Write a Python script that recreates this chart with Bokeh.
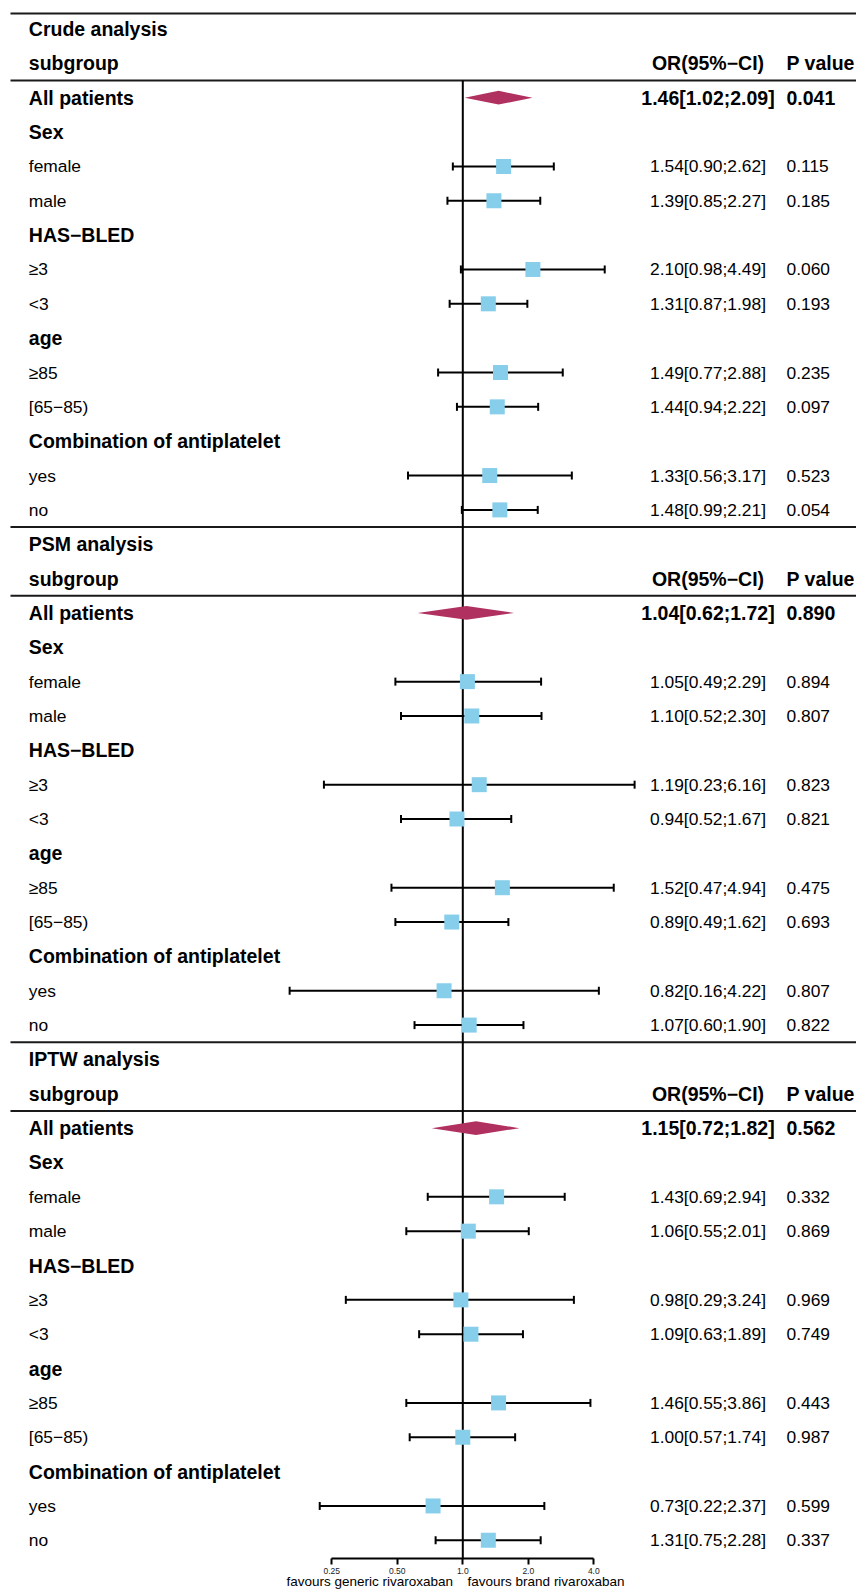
import math
from bokeh.plotting import figure
from bokeh.models import (Range1d, LogScale, LogAxis, FixedTicker,
                          CustomJSTickFormatter, ColumnDataSource)
from bokeh.core.properties import value
from bokeh.embed import file_html
from bokeh.resources import INLINE

# ---------------- data ----------------
analyses = ["Crude analysis", "PSM analysis", "IPTW analysis"]
row_labels = ["All patients", "Sex", "female", "male", "HAS−BLED", "≥3", "<3",
              "age", "≥85", "[65−85)", "Combination of antiplatelet", "yes", "no"]
heading_rows = ["Sex", "HAS−BLED", "age", "Combination of antiplatelet"]
data_rows = ["All patients", "female", "male", "≥3", "<3", "≥85", "[65−85)", "yes", "no"]
col_headers = ["subgroup", "OR(95%−CI)", "P value"]

crude_or = [1.46, 1.54, 1.39, 2.10, 1.31, 1.49, 1.44, 1.33, 1.48]
crude_lo = [1.02, 0.90, 0.85, 0.98, 0.87, 0.77, 0.94, 0.56, 0.99]
crude_hi = [2.09, 2.62, 2.27, 4.49, 1.98, 2.88, 2.22, 3.17, 2.21]
crude_p = ["0.041", "0.115", "0.185", "0.060", "0.193", "0.235", "0.097", "0.523", "0.054"]

psm_or = [1.04, 1.05, 1.10, 1.19, 0.94, 1.52, 0.89, 0.82, 1.07]
psm_lo = [0.62, 0.49, 0.52, 0.23, 0.52, 0.47, 0.49, 0.16, 0.60]
psm_hi = [1.72, 2.29, 2.30, 6.16, 1.67, 4.94, 1.62, 4.22, 1.90]
psm_p = ["0.890", "0.894", "0.807", "0.823", "0.821", "0.475", "0.693", "0.807", "0.822"]

iptw_or = [1.15, 1.43, 1.06, 0.98, 1.09, 1.46, 1.00, 0.73, 1.31]
iptw_lo = [0.72, 0.69, 0.55, 0.29, 0.63, 0.55, 0.57, 0.22, 0.75]
iptw_hi = [1.82, 2.94, 2.01, 3.24, 1.89, 3.86, 1.74, 2.37, 2.28]
iptw_p = ["0.562", "0.332", "0.869", "0.969", "0.749", "0.443", "0.987", "0.599", "0.337"]

tick_values = [0.25, 0.5, 1.0, 2.0, 4.0]
tick_labels = ["0.25", "0.50", "1.0", "2.0", "4.0"]
favour_labels = ["favours generic rivaroxaban", "favours brand rivaroxaban"]

# ---------------- layout constants ----------------
W, H = 856, 1591
PAGE_L, PAGE_R = 0, W
X_ONE = 462.3          # x of OR = 1
PX_PER_DOUBLING = 65.5
X_LEFT_TEXT = 28.3
X_OR_CENTER = 707.5
X_P_LEFT = 786
ROWS_PER_BLOCK = 15
Y_TOP = -0.831
Y_AXIS = 44.53

FONT = value("Liberation Sans")
BOLD_SIZE = "19.5px"
REG_SIZE = "17.4px"
SQUARE = "#87CEEB"
DIAMOND = "#B03060"

def px_to_or(px):
    return 2 ** ((px - X_ONE) / PX_PER_DOUBLING)

# ---------------- build rows ----------------
all_or = [crude_or, psm_or, iptw_or]
all_lo = [crude_lo, psm_lo, iptw_lo]
all_hi = [crude_hi, psm_hi, iptw_hi]
all_p = [crude_p, psm_p, iptw_p]

bold_left = dict(x=[], y=[], text=[])
reg_left = dict(x=[], y=[], text=[])
bold_or = dict(x=[], y=[], text=[])
reg_or = dict(x=[], y=[], text=[])
bold_p = dict(x=[], y=[], text=[])
reg_p = dict(x=[], y=[], text=[])
pts = dict(est=[], lo=[], hi=[], y=[])
dia_xs, dia_ys = [], []
sep_rows = []

def put(d, x, y, t):
    d["x"].append(x); d["y"].append(y); d["text"].append(t)

for b, name in enumerate(analyses):
    r0 = b * ROWS_PER_BLOCK
    sep_rows.append(r0 - 0.45 if b == 0 else r0 - 0.5)
    sep_rows.append(r0 + 1.5)
    put(bold_left, X_LEFT_TEXT, r0, name)
    put(bold_left, X_LEFT_TEXT, r0 + 1, col_headers[0])
    put(bold_or, X_OR_CENTER, r0 + 1, col_headers[1])
    put(bold_p, X_P_LEFT, r0 + 1, col_headers[2])
    for i, lab in enumerate(row_labels):
        y = r0 + 2 + i
        if lab in heading_rows or lab == "All patients":
            put(bold_left, X_LEFT_TEXT, y, lab)
        else:
            put(reg_left, X_LEFT_TEXT, y, lab)
        if lab in data_rows:
            k = data_rows.index(lab)
            est, lo, hi, pv = all_or[b][k], all_lo[b][k], all_hi[b][k], all_p[b][k]
            s = f"{est:.2f}[{lo:.2f};{hi:.2f}]"
            if lab == "All patients":
                put(bold_or, X_OR_CENTER, y, s)
                put(bold_p, X_P_LEFT, y, pv)
                dia_xs.append([lo, est, hi, est])
                dia_ys.append([y, y - 0.2, y, y + 0.2])
            else:
                put(reg_or, X_OR_CENTER, y, s)
                put(reg_p, X_P_LEFT, y, pv)
                pts["est"].append(est); pts["lo"].append(lo); pts["hi"].append(hi); pts["y"].append(y)

# ---------------- figure ----------------
p = figure(width=W, height=H, output_backend="svg", toolbar_location=None,
           x_range=Range1d(PAGE_L, PAGE_R), y_range=Range1d(Y_AXIS, Y_TOP),
           x_axis_location=None, y_axis_location=None, min_border=0)
p.min_border_left = 0
p.min_border_right = 0
p.min_border_top = 0
p.outline_line_color = None
p.xgrid.visible = False
p.ygrid.visible = False
p.background_fill_color = "white"
p.border_fill_color = "white"

p.extra_x_ranges = {"log": Range1d(px_to_or(PAGE_L), px_to_or(PAGE_R))}
p.extra_x_scales = {"log": LogScale()}

# separators
p.segment(x0=10, x1=PAGE_R, y0=sep_rows, y1=sep_rows, line_color="#1a1a1a", line_width=2)

# reference line at OR = 1
p.segment(x0=[1.0], x1=[1.0], y0=[1.5], y1=[Y_AXIS], x_range_name="log",
          line_color="black", line_width=2)

src = ColumnDataSource(pts)
p.segment(x0="lo", x1="hi", y0="y", y1="y", source=src, x_range_name="log",
          line_color="black", line_width=2)
p.scatter(x="lo", y="y", source=src, x_range_name="log", marker="dash",
          angle=math.pi / 2, size=8, line_color="black", line_width=2)
p.scatter(x="hi", y="y", source=src, x_range_name="log", marker="dash",
          angle=math.pi / 2, size=8, line_color="black", line_width=2)
p.scatter(x="est", y="y", source=src, x_range_name="log", marker="square",
          size=15, fill_color=SQUARE, line_color=None)

p.patches(xs=dia_xs, ys=dia_ys, x_range_name="log", fill_color=DIAMOND, line_color=None)

def add_text(d, size, style, align):
    p.text(x="x", y="y", text="text", source=ColumnDataSource(d),
           text_font=FONT, text_font_size=size, text_font_style=style,
           text_align=align, text_baseline="middle", text_color="black")

add_text(bold_left, BOLD_SIZE, "bold", "left")
add_text(reg_left, REG_SIZE, "normal", "left")
add_text(bold_or, BOLD_SIZE, "bold", "center")
add_text(reg_or, REG_SIZE, "normal", "center")
add_text(bold_p, BOLD_SIZE, "bold", "left")
add_text(reg_p, REG_SIZE, "normal", "left")

# x axis
fmt = CustomJSTickFormatter(args=dict(vals=tick_values, labs=tick_labels),
                            code="const i = vals.indexOf(tick); return i >= 0 ? labs[i] : '';")
ax = LogAxis(x_range_name="log", ticker=FixedTicker(ticks=tick_values), formatter=fmt,
             bounds=(tick_values[0], tick_values[-1]))
ax.axis_line_width = 2
ax.axis_line_color = "black"
ax.major_tick_line_width = 2
ax.major_tick_line_color = "black"
ax.major_tick_out = 6
ax.major_tick_in = 0
ax.minor_tick_out = 0
ax.minor_tick_in = 0
ax.major_label_text_font = "Liberation Sans"
ax.major_label_text_font_size = "8.5px"
ax.major_label_text_color = "#222222"
ax.major_label_standoff = 3
p.add_layout(ax, "below")

fav_pos = [px_to_or(369.3), px_to_or(545.5)]
fmt2 = CustomJSTickFormatter(args=dict(vals=fav_pos, labs=favour_labels),
                             code="let best = 0; for (let i = 0; i < vals.length; i++) { if (Math.abs(vals[i]-tick) < Math.abs(vals[best]-tick)) best = i; } return labs[best];")
ax2 = LogAxis(x_range_name="log", ticker=FixedTicker(ticks=fav_pos), formatter=fmt2)
ax2.axis_line_color = None
ax2.major_tick_line_color = None
ax2.minor_tick_line_color = None
ax2.major_tick_out = 0
ax2.major_tick_in = 0
ax2.minor_tick_out = 0
ax2.minor_tick_in = 0
ax2.major_label_text_font = "Liberation Sans"
ax2.major_label_text_font_size = "13.5px"
ax2.major_label_text_color = "black"
ax2.major_label_standoff = -3
p.add_layout(ax2, "below")

open("out.html", "w").write(file_html(p, INLINE))
